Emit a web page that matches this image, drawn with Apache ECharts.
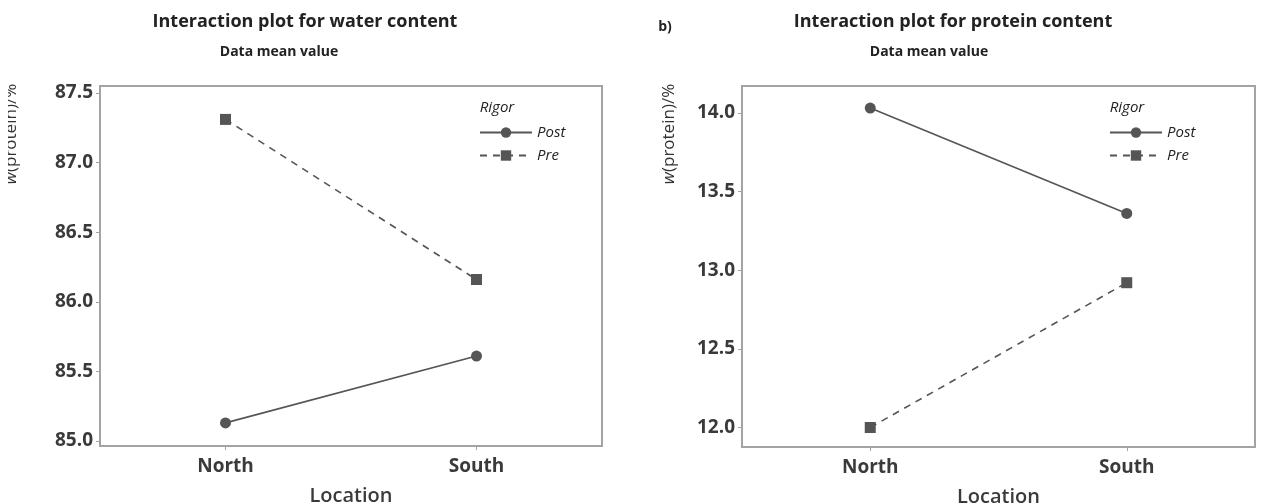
<!DOCTYPE html>
<html>
<head>
<meta charset="utf-8">
<script src="https://cdn.jsdelivr.net/npm/echarts@6/dist/echarts.min.js"></script>
<style>
html, body { margin: 0; padding: 0; background: #fff; }
#chart { width: 1262px; height: 504px; }
</style>
</head>
<body>
<div id="chart"></div>
<script>
// data
const locations = ['North', 'South']
const waterPost = [85.13, 85.61]
const waterPre = [87.31, 86.16]
const proteinPost = [14.03, 13.36]
const proteinPre = [12.00, 12.92]
const waterTicks = [85.0, 85.5, 86.0, 86.5, 87.0, 87.5]
const proteinTicks = [12.0, 12.5, 13.0, 13.5, 14.0]

const font = '"Open Sans", "Noto Sans", sans-serif'
const lineColor = '#555'
const frame = '#a3a3a3'

function xAxis(gridIndex) {
  return {
    type: 'category',
    gridIndex: gridIndex,
    data: locations,
    boundaryGap: true,
    name: 'Location',
    nameLocation: 'middle',
    nameGap: 40,
    nameTextStyle: { fontFamily: font, fontSize: 20, fontWeight: 600, color: '#3a3a3a' },
    axisLine: { show: false },
    axisTick: { show: true, alignWithLabel: true, length: 4, lineStyle: { color: frame } },
    axisLabel: { fontFamily: font, fontSize: 19, fontWeight: 'bold', color: '#3a3a3a', margin: 11 }
  }
}

function yAxis(gridIndex, min, max, ticks) {
  return {
    type: 'value',
    gridIndex: gridIndex,
    min: min,
    max: max,
    axisLine: { show: false },
    splitLine: { show: false },
    axisTick: { show: true, length: 4, customValues: ticks, lineStyle: { color: frame } },
    axisLabel: {
      customValues: ticks,
      fontFamily: font, fontSize: 19, fontWeight: 'bold', color: '#3a3a3a', margin: 7,
      formatter: v => v.toFixed(1)
    }
  }
}

function series(name, data, idx, dashed) {
  return {
    name: name,
    type: 'line',
    xAxisIndex: idx,
    yAxisIndex: idx,
    data: data,
    symbol: dashed ? 'rect' : 'circle',
    symbolSize: 11,
    itemStyle: { color: lineColor },
    lineStyle: { color: lineColor, width: 1.6, type: dashed ? [7, 6] : 'solid' },
    emphasis: { disabled: true },
    animation: false
  }
}

function legend(left, top) {
  return {
    orient: 'vertical',
    left: left,
    top: top,
    itemWidth: 52,
    itemHeight: 13,
    itemGap: 8,
    data: ['Post', 'Pre'],
    textStyle: { fontFamily: font, fontStyle: 'italic', fontSize: 15, color: '#222' }
  }
}

function text(x, y, str, size, weight, italic) {
  return {
    type: 'text', x: x, y: y, z: 10,
    style: {
      text: str, fontFamily: font, fontSize: size, fontWeight: weight,
      fontStyle: italic ? 'italic' : 'normal',
      fill: '#222', align: 'center', verticalAlign: 'middle'
    }
  }
}

function yName(x, y) {
  return {
    type: 'text', x: x, y: y, rotation: Math.PI / 2, z: 10,
    style: {
      text: '{i|w}{n|(protein)/%}',
      align: 'center', verticalAlign: 'middle',
      rich: {
        i: { fontFamily: font, fontStyle: 'italic', fontSize: 17, fill: '#333' },
        n: { fontFamily: font, fontSize: 17, fill: '#333' }
      }
    }
  }
}

const chart = echarts.init(document.getElementById('chart'))
chart.setOption({
  backgroundColor: '#fff',
  animation: false,
  grid: [
    { left: 100, width: 502, top: 86, height: 360, show: true, borderColor: frame, borderWidth: 2, outerBoundsMode: 'none' },
    { left: 742, width: 513, top: 86, height: 361, show: true, borderColor: frame, borderWidth: 2, outerBoundsMode: 'none' }
  ],
  xAxis: [xAxis(0), xAxis(1)],
  yAxis: [
    yAxis(0, 84.964, 87.55, waterTicks),
    yAxis(1, 11.876, 14.17, proteinTicks)
  ],
  legend: [legend(474, 120), legend(1104, 120)],
  series: [
    series('Post', waterPost, 0, false),
    series('Pre', waterPre, 0, true),
    series('Post', proteinPost, 1, false),
    series('Pre', proteinPre, 1, true)
  ],
  graphic: [
    text(305, 22, 'Interaction plot for water content', 18, 'bold'),
    text(279, 52, 'Data mean value', 14, 'bold'),
    text(953, 22, 'Interaction plot for protein content', 18, 'bold'),
    text(929, 52, 'Data mean value', 14, 'bold'),
    text(665, 27, 'b)', 14, 'bold'),
    text(497, 108, 'Rigor', 15, 'normal', true),
    text(1127, 108, 'Rigor', 15, 'normal', true),
    yName(11, 134),
    // left edge of the source image cuts the first axis name
    { type: 'rect', z: 20, shape: { x: 0, y: 70, width: 8, height: 130 }, style: { fill: '#fff' } },
    yName(669, 134)
  ]
})
</script>
</body>
</html>
